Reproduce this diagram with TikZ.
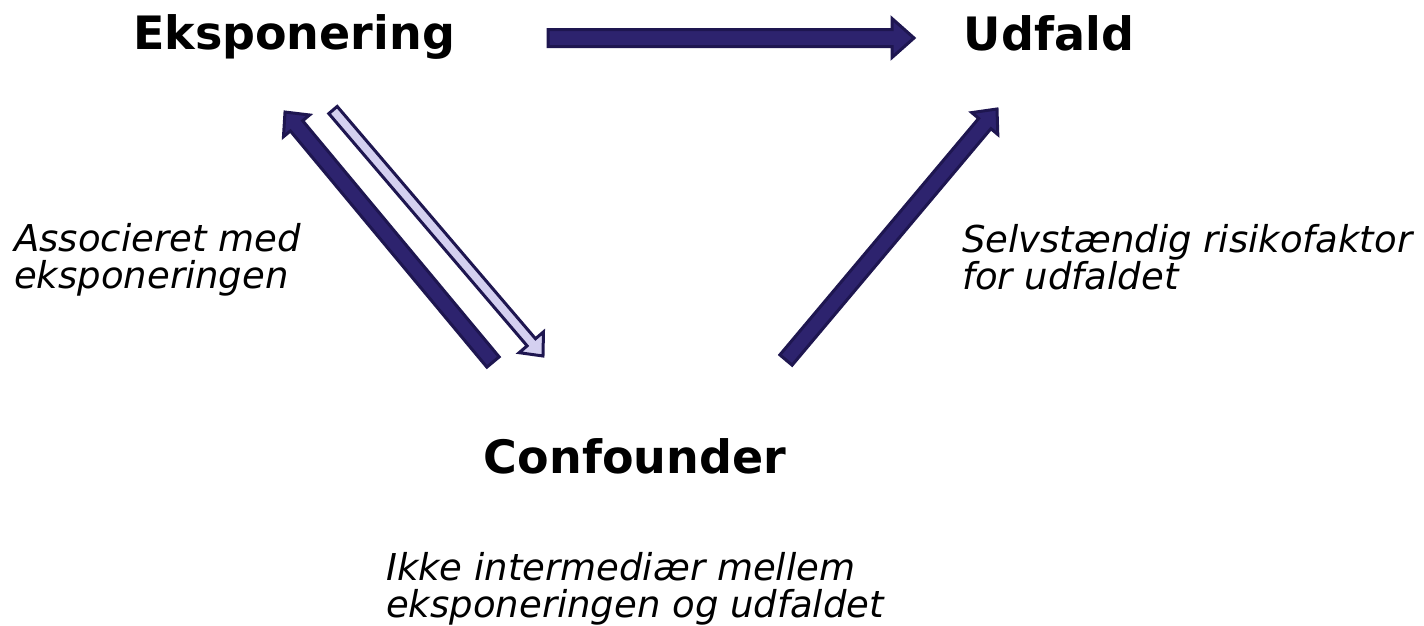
\documentclass[tikz,border=0pt]{standalone}
\usepackage{fontspec}
\setmainfont{DejaVu Sans}
\usetikzlibrary{calc}
\definecolor{arrfill}{RGB}{45,35,110}
\definecolor{arrline}{RGB}{30,22,80}
\definecolor{arrlight}{RGB}{212,208,240}
\tikzset{
  title/.style={font=\bfseries\fontsize{46}{54}\selectfont, inner sep=0pt, anchor=base},
  note/.style={font=\itshape\fontsize{37}{37}\selectfont, inner sep=0pt, align=left, anchor=base west},
  darkarrow/.style={draw=arrline, fill=arrfill, line width=3pt, line join=miter},
  lightarrow/.style={draw=arrline, fill=arrlight, line width=3pt, line join=miter}
}
% #1 style, #2 tail, #3 tip, #4 shaft half width, #5 head half width, #6 head length
\newcommand\fatarrow[6]{%
  \path (#2); \pgfgetlastxy{\fax}{\fay}%
  \path (#3); \pgfgetlastxy{\fbx}{\fby}%
  \pgfmathsetmacro\fang{atan2(\fby-\fay,\fbx-\fax)}%
  \pgfmathsetmacro\flen{veclen(\fbx-\fax,\fby-\fay)}%
  \begin{scope}[shift={(#2)}, rotate=\fang]
    \path[#1] (0pt,-#4pt) -- ({\flen pt-#6pt},-#4pt) -- ({\flen pt-#6pt},-#5pt)
      -- (\flen pt,0pt) -- ({\flen pt-#6pt},#5pt) -- ({\flen pt-#6pt},#4pt)
      -- (0pt,#4pt) -- cycle;
  \end{scope}}
\begin{document}
\begin{tikzpicture}[x=1pt,y=-1pt]
\useasboundingbox (0,0) rectangle (1424,625);
\node[title] (E) at (294,49) {Eksponering};
\node[title] (U) at (1049,50) {Udfald};
\node[title] (C) at (635,473) {Confounder};
\node[note] (NE) at (14,288) {Associeret med\\eksponeringen};
\node[note] (NU) at (962,289) {Selvstændig risikofaktor\\for udfaldet};
\node[note] (NC) at (386,617) {Ikke intermediær mellem\\eksponeringen og udfaldet};
\coordinate (h1) at (548,38);
\coordinate (h2) at (914,38);
\coordinate (l1) at (493,362);
\coordinate (l2) at (285,112);
\coordinate (m1) at (333,110);
\coordinate (m2) at (543,356);
\coordinate (r1) at (786,360);
\coordinate (r2) at (997,109);
\fatarrow{darkarrow}{h1}{h2}{8.5}{19.5}{22}
\fatarrow{darkarrow}{l1}{l2}{8}{17}{18}
\fatarrow{lightarrow}{m1}{m2}{5.5}{16}{18}
\fatarrow{darkarrow}{r1}{r2}{8}{17}{19}
\end{tikzpicture}
\end{document}
